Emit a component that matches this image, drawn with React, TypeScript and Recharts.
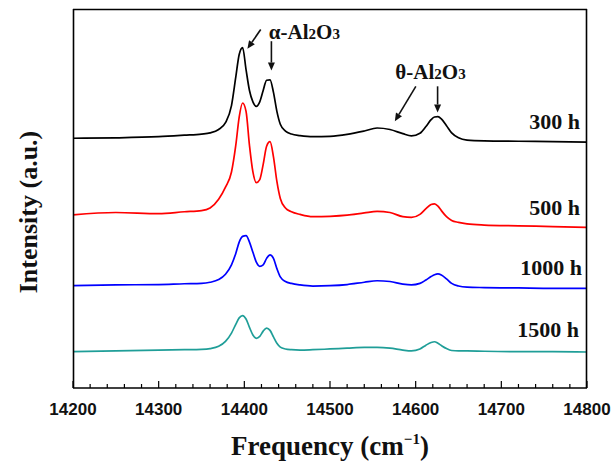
import { LineChart, Line, XAxis, YAxis, ReferenceLine, ReferenceDot } from 'recharts'

// frequency grid (cm-1) and the four offset spectra
const freq = [
  14200, 14250, 14300, 14330, 14350, 14360, 14370, 14378, 14385, 14390, 14394, 14398,
  14402, 14406, 14410, 14414, 14418, 14422, 14426, 14430, 14434, 14438, 14442, 14448,
  14455, 14465, 14480, 14500, 14520, 14540, 14555, 14570, 14585, 14595, 14605, 14612,
  14618, 14622, 14626, 14630, 14636, 14642, 14650, 14660, 14680, 14720, 14760, 14800,
]
const h300 = [
  65.9, 66.0, 66.3, 66.7, 67.0, 67.3, 68.2, 70.0, 74.5, 82.0, 88.0, 89.8,
  84.0, 78.5, 75.5, 74.3, 75.5, 78.5, 81.2, 81.3, 78.0, 73.0, 69.6, 67.8,
  67.0, 66.6, 66.3, 66.4, 66.9, 67.8, 68.6, 68.2, 67.1, 66.5, 67.2, 69.0,
  70.8, 71.5, 71.6, 71.0, 69.2, 67.3, 66.0, 65.4, 65.2, 65.1, 65.0, 64.9,
]
const h500 = [
  45.7, 46.3, 46.0, 46.5, 46.8, 47.5, 49.8, 53.0, 57.0, 64.0, 71.5, 75.2,
  73.0, 64.0, 57.0, 54.2, 55.0, 59.0, 63.8, 65.0, 61.0, 54.5, 50.0, 47.5,
  46.5, 45.8, 45.2, 45.3, 45.6, 46.2, 46.6, 46.3, 45.2, 45.0, 45.8, 47.3,
  48.4, 48.6, 48.0, 46.8, 45.2, 44.2, 43.7, 43.3, 43.0, 42.8, 42.6, 42.4,
]
const h1000 = [
  27.0, 27.2, 27.3, 27.5, 27.6, 27.9, 28.6, 30.0, 32.5, 35.5, 38.5, 40.0,
  40.2, 38.5, 35.8, 33.2, 32.1, 32.5, 34.2, 35.1, 34.2, 31.5, 29.3, 28.1,
  27.6, 27.2, 26.9, 27.0, 27.3, 27.9, 28.3, 28.1, 27.4, 27.2, 27.6, 28.5,
  29.4, 29.9, 30.1, 29.8, 28.8, 27.6, 26.9, 26.6, 26.5, 26.4, 26.3, 26.3,
]
const h1500 = [
  9.6, 9.8, 10.0, 10.1, 10.2, 10.4, 11.0, 12.3, 14.5, 16.8, 18.5, 19.1,
  18.2, 16.0, 14.0, 13.1, 13.6, 15.0, 15.8, 15.2, 13.5, 11.8, 10.8, 10.3,
  10.1, 10.0, 10.1, 10.3, 10.5, 10.7, 10.7, 10.5, 10.0, 9.8, 10.3, 11.3,
  12.0, 12.2, 11.8, 11.2, 10.4, 9.9, 9.8, 9.8, 9.7, 9.6, 9.6, 9.5,
]

const majorTicks = [14200, 14300, 14400, 14500, 14600, 14700, 14800]
const allTicks = [
  14200, 14220, 14240, 14260, 14280, 14300, 14320, 14340, 14360, 14380, 14400,
  14420, 14440, 14460, 14480, 14500, 14520, 14540, 14560, 14580, 14600,
  14620, 14640, 14660, 14680, 14700, 14720, 14740, 14760, 14780, 14800,
]

const rows = freq.map((f, i) => ({
  f,
  h300: h300[i],
  h500: h500[i],
  h1000: h1000[i],
  h1500: h1500[i],
}))

const serif = '"Liberation Serif", "Times New Roman", serif'
const sans = '"Liberation Sans", Arial, sans-serif'
const frame = { stroke: '#000', strokeWidth: 1.6 }

function FreqTick(props: any) {
  const { x, y, payload } = props
  const major = majorTicks.includes(payload.value)
  return (
    <g>
      <line x1={x} x2={x} y1={y} y2={y - (major ? 7 : 4)} stroke="#000" strokeWidth={1.2} />
      {major && (
        <text x={x} y={y + 26.5} textAnchor="middle" fontFamily={sans} fontWeight="bold" fontSize={17} fill="#111">
          {payload.value}
        </text>
      )}
    </g>
  )
}

function Arrow(props: any) {
  const { x1, y1, x2, y2 } = props
  const dx = x2 - x1
  const dy = y2 - y1
  const len = Math.sqrt(dx * dx + dy * dy)
  const ux = dx / len
  const uy = dy / len
  const hl = 8
  const hw = 3.5
  const bx = x2 - ux * hl
  const by = y2 - uy * hl
  return (
    <g>
      <line x1={x1} y1={y1} x2={bx} y2={by} stroke="#111" strokeWidth={1.6} />
      <polygon
        points={`${x2},${y2} ${bx - uy * hw},${by + ux * hw} ${bx + uy * hw},${by - ux * hw}`}
        fill="#111"
      />
    </g>
  )
}

function PhaseText(greek: string) {
  return (props: any) => (
    <text x={props.cx} y={props.cy} fontFamily={serif} fontWeight="bold" fontSize={21} fill="#111">
      {greek}-Al<tspan fontSize={15}>2</tspan>O<tspan fontSize={15}>3</tspan>
    </text>
  )
}

const seriesLabels = [
  { text: '300 h', x: 580, y: 129 },
  { text: '500 h', x: 580, y: 215 },
  { text: '1000 h', x: 582, y: 275 },
  { text: '1500 h', x: 579, y: 337 },
]

// plot box (matches the chart margins below)
const box = { left: 73, top: 9, right: 587, bottom: 388 }

export default function App() {
  return (
    <div style={{ position: 'absolute', left: 0, top: 0, width: 611, height: 463, background: '#fff' }}>
      <LineChart
        width={611}
        height={463}
        data={rows}
        margin={{ top: box.top, right: 611 - box.right, left: box.left, bottom: 45 }}
      >
        <XAxis
          dataKey="f"
          type="number"
          domain={[14200, 14800]}
          ticks={allTicks}
          interval={0}
          height={30}
          axisLine={frame}
          tickLine={false}
          tickSize={0}
          tickMargin={0}
          tick={<FreqTick />}
        />
        <YAxis type="number" domain={[0, 100]} width={0} tick={false} axisLine={false} tickLine={false} />
        <Line dataKey="h300" type="monotone" stroke="#000000" strokeWidth={1.7} dot={false} isAnimationActive={false} />
        <Line dataKey="h500" type="monotone" stroke="#ff0000" strokeWidth={1.7} dot={false} isAnimationActive={false} />
        <Line dataKey="h1000" type="monotone" stroke="#0000ff" strokeWidth={1.7} dot={false} isAnimationActive={false} />
        <Line dataKey="h1500" type="monotone" stroke="#1f9e98" strokeWidth={1.7} dot={false} isAnimationActive={false} />
        <ReferenceLine segment={[{ x: 14419.1, y: 94.6 }, { x: 14403.6, y: 89.5 }]} shape={Arrow} />
        <ReferenceLine segment={[{ x: 14431.6, y: 91.5 }, { x: 14431.6, y: 83.75 }]} shape={Arrow} />
        <ReferenceLine segment={[{ x: 14600.2, y: 79.6 }, { x: 14575.7, y: 70.4 }]} shape={Arrow} />
        <ReferenceLine segment={[{ x: 14625.6, y: 79.6 }, { x: 14625.6, y: 72.7 }]} shape={Arrow} />
        <ReferenceDot x={14428.6} y={92.2} r={0} shape={PhaseText('α')} />
        <ReferenceDot x={14576.3} y={81.4} r={0} shape={PhaseText('θ')} />
      </LineChart>
      <svg width={611} height={463} style={{ position: 'absolute', left: 0, top: 0, pointerEvents: 'none' }}>
        <line x1={box.left} y1={box.top + 0.5} x2={box.right} y2={box.top + 0.5} {...frame} />
        <line x1={box.right - 0.5} y1={box.top} x2={box.right - 0.5} y2={box.bottom} {...frame} />
        <line x1={box.left + 0.5} y1={box.top} x2={box.left + 0.5} y2={box.bottom} {...frame} />
        {seriesLabels.map((s) => (
          <text key={s.text} x={s.x} y={s.y} textAnchor="end" fontFamily={serif} fontWeight="bold" fontSize={22} fill="#111">
            {s.text}
          </text>
        ))}
        <text x={330} y={455} textAnchor="middle" fontFamily={serif} fontWeight="bold" fontSize={27} fill="#111">
          Frequency (cm<tspan fontSize={15} dy={-11}>−1</tspan><tspan dy={11}>)</tspan>
        </text>
        <text
          x={0}
          y={0}
          transform="translate(37 212) rotate(-90)"
          textAnchor="middle"
          fontFamily={serif}
          fontWeight="bold"
          fontSize={26}
          fill="#111"
        >
          Intensity (a.u.)
        </text>
      </svg>
    </div>
  )
}
